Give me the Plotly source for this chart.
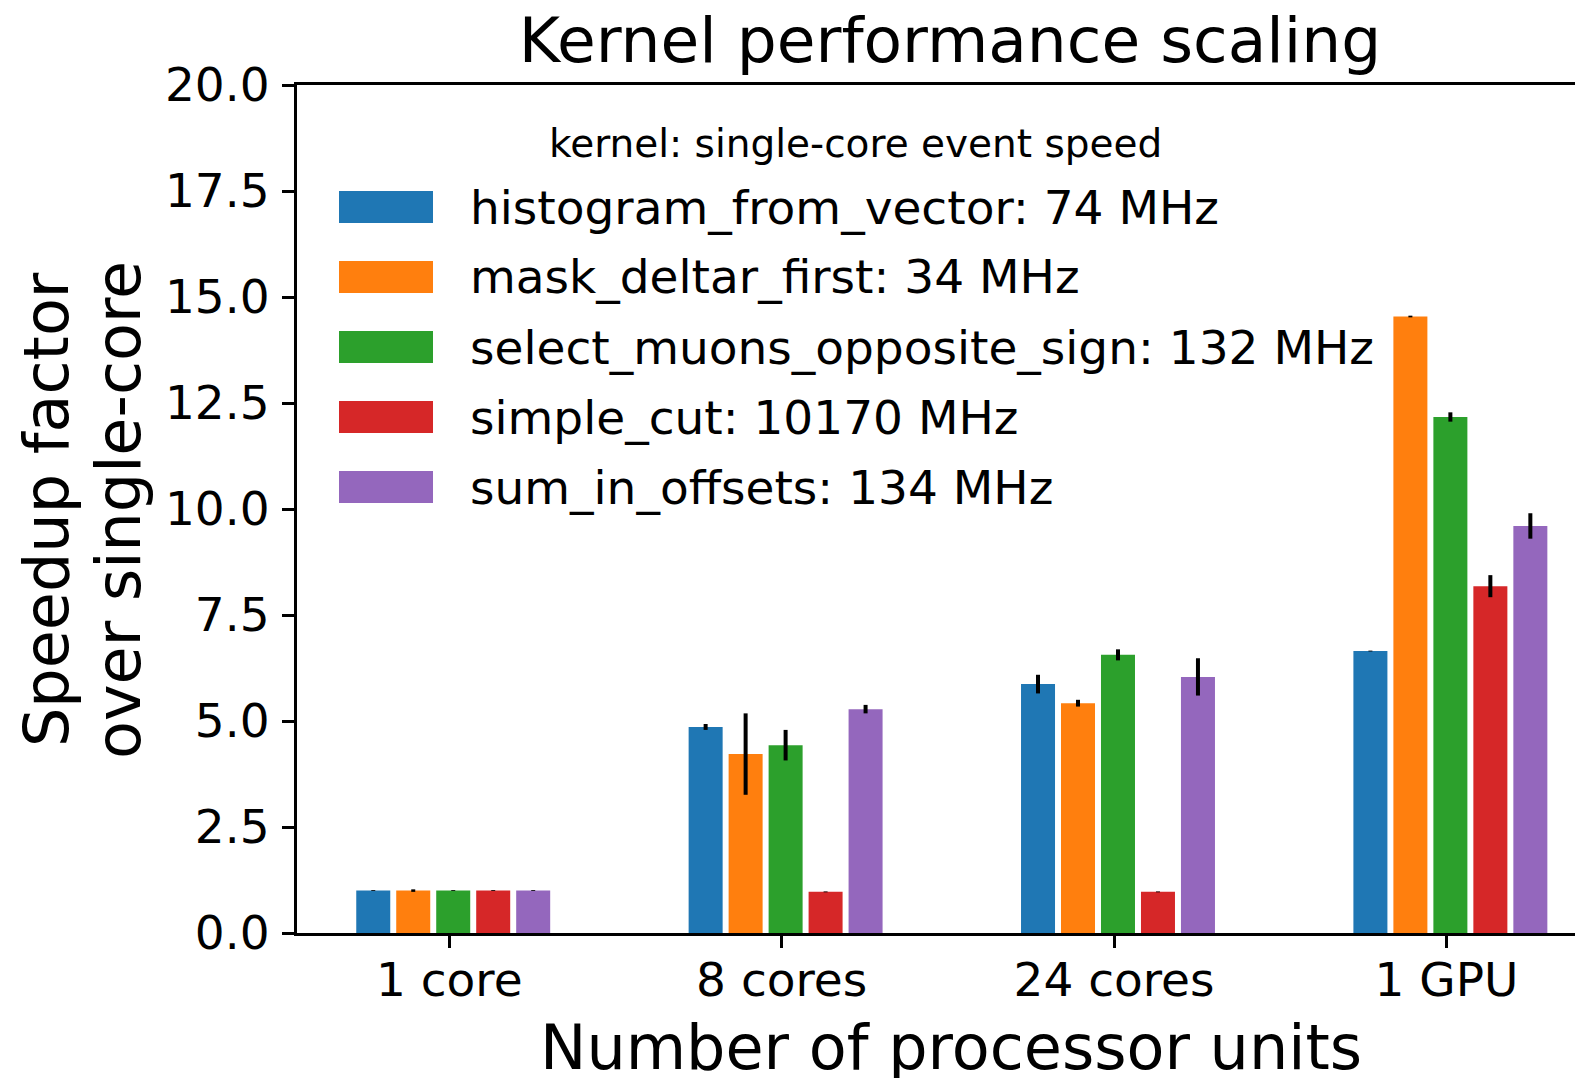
import plotly.graph_objects as go

# ---- data ----
categories = ["1 core", "8 cores", "24 cores", "1 GPU"]
kernel_names = ["histogram_from_vector", "mask_deltar_first", "select_muons_opposite_sign",
                "simple_cut", "sum_in_offsets"]
single_core_mhz = [74, 34, 132, 10170, 134]

histogram_from_vector = [1.0, 4.86, 5.87, 6.65]
histogram_from_vector_err = [0.01, 0.07, 0.22, 0.01]
mask_deltar_first = [1.0, 4.22, 5.42, 14.54]
mask_deltar_first_err = [0.03, 0.96, 0.08, 0.02]
select_muons_opposite_sign = [1.0, 4.43, 6.56, 12.17]
select_muons_opposite_sign_err = [0.01, 0.36, 0.13, 0.11]
simple_cut = [1.0, 0.97, 0.97, 8.18]
simple_cut_err = [0.01, 0.01, 0.01, 0.26]
sum_in_offsets = [1.0, 5.28, 6.04, 9.60]
sum_in_offsets_err = [0.01, 0.10, 0.44, 0.30]

y_ticks = [0.0, 2.5, 5.0, 7.5, 10.0, 12.5, 15.0, 17.5, 20.0]

# ---- styling / layout ----
series = [histogram_from_vector, mask_deltar_first, select_muons_opposite_sign, simple_cut, sum_in_offsets]
errors = [histogram_from_vector_err, mask_deltar_first_err, select_muons_opposite_sign_err,
          simple_cut_err, sum_in_offsets_err]
colors = ["#1f77b4", "#ff7f0e", "#2ca02c", "#d62728", "#9467bd"]
FONT = "DejaVu Sans"
OFF = 8  # page body margin
W, H = 1583 - OFF, 1078 - OFF
# plot area in page pixels: x 297..1583, y 85..933
L, R, T, B = 297 - OFF, 0, 85 - OFF, 1078 - 933
PW, PH = W - L - R, H - T - B
SLOT = 0.1203
BAR_W = 0.1023
SHIFT = 0.012


def px_x(px):
    return (px - OFF - L) / PW


def px_y(py):
    return (T + PH - (py - OFF)) / PH


fig = go.Figure()
for k, (vals, err, col, name) in enumerate(zip(series, errors, colors, kernel_names)):
    xs = [i + (k - 2) * SLOT + SHIFT for i in range(len(categories))]
    fig.add_trace(go.Bar(
        x=xs, y=vals, width=BAR_W, name=name,
        marker=dict(color=col, line=dict(width=0)),
        error_y=dict(type="data", array=err, color="black", thickness=4, width=0, visible=True),
        showlegend=False,
    ))

# manual legend (matplotlib-style large swatches)
annotations = []
shapes = []
annotations.append(dict(text="kernel: single-core event speed", x=px_x(855), y=px_y(144),
                        xref="paper", yref="paper", xanchor="center", yanchor="middle",
                        showarrow=False, font=dict(family=FONT, size=39, color="black")))
for k, (name, mhz, col) in enumerate(zip(kernel_names, single_core_mhz, colors)):
    cy = 207 + 70 * k
    shapes.append(dict(type="rect", xref="paper", yref="paper",
                       x0=px_x(339), x1=px_x(433), y0=px_y(cy + 16), y1=px_y(cy - 16),
                       fillcolor=col, line=dict(width=0)))
    annotations.append(dict(text=f"{name}: {mhz} MHz", x=px_x(468), y=px_y(cy),
                            xref="paper", yref="paper", xanchor="left", yanchor="middle",
                            showarrow=False, font=dict(family=FONT, size=47, color="black")))

# axis titles
annotations.append(dict(text="Speedup factor", x=px_x(47), y=px_y(510), xref="paper", yref="paper",
                        textangle=-90, xanchor="center", yanchor="middle", showarrow=False,
                        font=dict(family=FONT, size=62, color="black")))
annotations.append(dict(text="over single-core", x=px_x(119), y=px_y(510), xref="paper", yref="paper",
                        textangle=-90, xanchor="center", yanchor="middle", showarrow=False,
                        font=dict(family=FONT, size=62, color="black")))
annotations.append(dict(text="Number of processor units", x=px_x(951), y=px_y(1047),
                        xref="paper", yref="paper", xanchor="center", yanchor="middle",
                        showarrow=False, font=dict(family=FONT, size=62, color="black")))

fig.update_layout(
    width=W, height=H, autosize=False,
    margin=dict(l=L, r=R, t=T, b=B, pad=0),
    paper_bgcolor="white", plot_bgcolor="white",
    title=dict(text="Kernel performance scaling", x=(950 - OFF) / W, xref="container", xanchor="center",
               y=1 - (40 - OFF) / H, yref="container", yanchor="middle",
               font=dict(family=FONT, size=63, color="black")),
    barmode="overlay",
    showlegend=False,
    annotations=annotations,
    shapes=shapes,
    font=dict(family=FONT, color="black"),
)
fig.update_xaxes(
    range=[-0.458, 3.411], tickmode="array", tickvals=list(range(len(categories))), ticktext=categories,
    showgrid=False, zeroline=False, showline=True, linecolor="black", linewidth=3, mirror=True,
    ticks="outside", ticklen=12, tickwidth=3, tickcolor="black", ticklabelstandoff=-8,
    tickfont=dict(family=FONT, size=47, color="black"),
)
fig.update_yaxes(
    range=[0, 20], tickmode="array", tickvals=y_ticks, ticktext=[f"{v:.1f}" for v in y_ticks],
    showgrid=False, zeroline=False, showline=True, linecolor="black", linewidth=3, mirror=False,
    ticks="outside", ticklen=12, tickwidth=3, tickcolor="black", ticklabelstandoff=3,
    tickfont=dict(family=FONT, size=47, color="black"),
)

fig.write_html("out.html")
